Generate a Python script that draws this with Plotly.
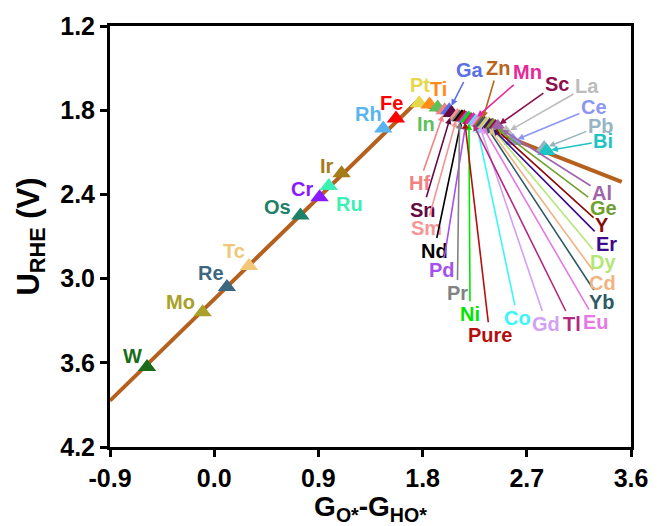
import plotly.graph_objects as go

# volcano line
volcano_x = [-0.9, 1.75, 3.52]
volcano_y = [3.87, 1.74, 2.31]

# markers (drawn in this order)
elements = ["W", "Mo", "Re", "Tc", "Os", "Cr", "Ru", "Ir", "Rh", "Fe",
            "Pt", "Ti", "In", "Hf", "Ga", "Sn", "Sm", "Pr", "Nd", "Pure",
            "Pd", "Ni", "Tl", "Mn", "Co", "Gd", "Eu", "Zn", "Yb", "Cd",
            "Dy", "Er", "Y", "Ge", "Sc", "Al", "La", "Ce", "Pb", "Bi"]
g_x = [-0.58, -0.10, 0.11, 0.30, 0.745, 0.91, 0.99, 1.10, 1.46, 1.57,
       1.77, 1.86, 1.93, 1.99, 2.03, 2.05, 2.10, 2.12, 2.14, 2.16,
       2.18, 2.20, 2.22, 2.24, 2.26, 2.28, 2.30, 2.31, 2.33, 2.35,
       2.37, 2.38, 2.40, 2.41, 2.43, 2.45, 2.52, 2.58, 2.85, 2.87]
u_y = [3.63, 3.24, 3.06, 2.91, 2.55, 2.42, 2.34, 2.25, 1.93, 1.86,
       1.75, 1.76, 1.78, 1.80, 1.80, 1.82, 1.84, 1.85, 1.85, 1.85,
       1.86, 1.86, 1.87, 1.87, 1.88, 1.88, 1.89, 1.89, 1.89, 1.90,
       1.90, 1.91, 1.91, 1.91, 1.92, 1.92, 1.96, 2.02, 2.07, 2.09]
colors = {
    "W": "#1a6b1a", "Mo": "#a8a028", "Re": "#3d6680", "Tc": "#f0c878",
    "Os": "#1d8068", "Cr": "#8a1aff", "Ru": "#3cf0b4", "Ir": "#a67c1a",
    "Rh": "#5ab4f0", "Fe": "#ff0000", "Pt": "#e6d84a", "Ti": "#ff8c1a",
    "In": "#5cc05c", "Ga": "#5a6ee6", "Zn": "#b8651e", "Mn": "#e62899",
    "Sc": "#8c0f4f", "La": "#bcbcbc", "Ce": "#8c96f5", "Pb": "#96b4c3",
    "Bi": "#1ec3c3", "Al": "#a064aa", "Ge": "#6ea02d", "Y": "#8b0a0a",
    "Er": "#3c0a8c", "Dy": "#b4e678", "Cd": "#f0b482", "Yb": "#2d5a64",
    "Eu": "#e678e6", "Tl": "#b4287d", "Gd": "#d2a0f5", "Co": "#3cf5f5",
    "Pure": "#b40f0f", "Ni": "#00e600", "Pr": "#828282", "Pd": "#a550f0",
    "Nd": "#000000", "Sm": "#f59696", "Sn": "#640a41", "Hf": "#f08282",
}

# label placement (data coords) and whether an arrow is drawn
label_pos = {
    "W": (-0.71, 3.55, False), "Mo": (-0.29, 3.17, False), "Re": (-0.03, 2.96, False),
    "Tc": (0.17, 2.80, False), "Os": (0.55, 2.49, False), "Cr": (0.76, 2.36, False),
    "Ru": (1.17, 2.47, False), "Ir": (0.97, 2.20, False), "Rh": (1.33, 1.83, False),
    "Fe": (1.53, 1.75, False), "Pt": (1.78, 1.62, False), "Ti": (1.94, 1.65, False),
    "In": (1.83, 1.90, False),
    "Ga": (2.21, 1.51, True), "Zn": (2.45, 1.50, True), "Mn": (2.71, 1.53, True),
    "Sc": (2.96, 1.61, True), "La": (3.22, 1.63, True), "Ce": (3.28, 1.78, True),
    "Pb": (3.34, 1.91, True), "Bi": (3.36, 2.02, True),
    "Hf": (1.77, 2.32, True), "Sn": (1.80, 2.51, True), "Sm": (1.83, 2.64, True),
    "Nd": (1.90, 2.80, True), "Pd": (1.97, 2.94, True), "Pr": (2.10, 3.10, True),
    "Ni": (2.21, 3.25, True), "Pure": (2.38, 3.40, True), "Co": (2.62, 3.28, True),
    "Gd": (2.87, 3.32, True), "Tl": (3.09, 3.32, True), "Eu": (3.30, 3.31, True),
    "Yb": (3.35, 3.17, True), "Cd": (3.35, 3.03, True), "Dy": (3.36, 2.88, True),
    "Er": (3.39, 2.75, True), "Y": (3.35, 2.62, True), "Ge": (3.36, 2.50, True),
    "Al": (3.35, 2.39, True),
}

x_ticks = [-0.9, 0.0, 0.9, 1.8, 2.7, 3.6]
y_ticks = [1.2, 1.8, 2.4, 3.0, 3.6, 4.2]

FONT = "Liberation Sans"

fig = go.Figure()
fig.add_trace(go.Scatter(x=volcano_x, y=volcano_y, mode="lines",
                         line=dict(color="#b5601c", width=4), hoverinfo="skip"))
fig.add_trace(go.Scatter(x=g_x, y=u_y, mode="markers", text=elements,
                         marker=dict(symbol="triangle-up", size=16,
                                     color=[colors[e] for e in elements],
                                     line=dict(width=0))))

idx = {e: i for i, e in enumerate(elements)}
for e, (lx, ly, arrow) in label_pos.items():
    c = colors[e]
    if arrow:
        i = idx[e]
        fig.add_annotation(x=g_x[i], y=u_y[i], ax=lx, ay=ly, axref="x", ayref="y",
                           xref="x", yref="y", text=e, showarrow=True,
                           arrowhead=2, arrowsize=0.8, arrowwidth=1.6,
                           arrowcolor=c, standoff=5,
                           font=dict(family=FONT, size=20, color=c, weight="bold"))
    else:
        fig.add_annotation(x=lx, y=ly, xref="x", yref="y", text=e, showarrow=False,
                           font=dict(family=FONT, size=20, color=c, weight="bold"))

axis_common = dict(showline=True, linecolor="black", linewidth=3, mirror=True,
                   ticks="outside", ticklen=7, tickwidth=3, tickcolor="black",
                   showgrid=False, zeroline=False,
                   tickfont=dict(family=FONT, size=25, color="black", weight="bold"))

fig.update_xaxes(range=[-0.9, 3.6], tickvals=x_ticks,
                 ticktext=[f"{v:.1f}" for v in x_ticks],
                 title=dict(text="G<sub>O*</sub>-G<sub>HO*</sub>", standoff=2,
                            font=dict(family=FONT, size=28, color="black", weight="bold")),
                 **axis_common)
fig.update_yaxes(range=[4.2, 1.2], tickvals=y_ticks,
                 ticktext=[f"{v:.1f}" for v in y_ticks],
                 title=dict(text="U<sub>RHE</sub> (V)", standoff=12,
                            font=dict(family=FONT, size=31, color="black", weight="bold")),
                 **axis_common)

fig.update_layout(width=660, height=526, margin=dict(l=110, r=22, t=25, b=79),
                  plot_bgcolor="white", paper_bgcolor="white", showlegend=False)

fig.write_html("out.html")
